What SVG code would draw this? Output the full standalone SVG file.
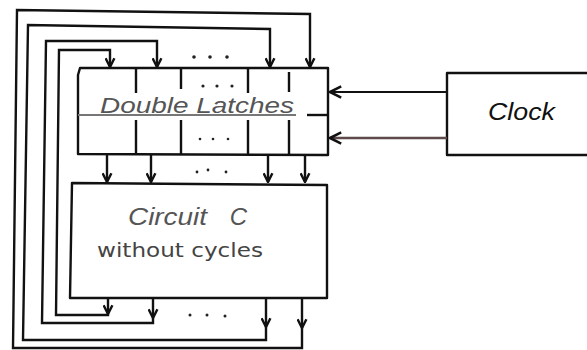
<svg xmlns="http://www.w3.org/2000/svg" width="587" height="350" viewBox="0 0 587 350">
<style>
.box{fill:none;stroke:#111;stroke-width:2.4;stroke-linejoin:round}
.ln{fill:none;stroke:#111;stroke-width:2.4;stroke-linejoin:round}
.arr{fill:none;stroke:#111;stroke-width:2.4;marker-end:url(#ah)}
.dot{fill:#222}
.lbl{font-family:"Liberation Sans",Arial,sans-serif;font-style:italic;fill:#555}
</style>
<defs>
<marker id="ah" viewBox="0 0 10 10" refX="9" refY="5" markerWidth="11" markerHeight="11" markerUnits="userSpaceOnUse" orient="auto">
<path d="M1,1 L9,5 L1,9" fill="none" stroke="#111" stroke-width="2.2"/>
</marker>
<marker id="ahc" viewBox="0 0 10 10" refX="9" refY="5" markerWidth="14" markerHeight="14" markerUnits="userSpaceOnUse" orient="auto">
<path d="M1,1 L9,5 L1,9" fill="none" stroke="#111" stroke-width="1.8"/>
</marker>
</defs>
<rect width="587" height="350" fill="#fff"/>

<g id="latches">
<path class="box" d="M78,75 L80,68 L328,68 L328,155 L78,154 Z"/>
<path class="ln" d="M136,68 V93 M181,68 V89 M248,68 V93 M289,72 V92"/>
<path class="ln" d="M136,120 V154 M181,120 V154 M248,120 V154 M289,120 V154"/>
<line x1="78" y1="115" x2="296" y2="115" stroke="#777" stroke-width="1.8"/>
<line x1="307" y1="115" x2="328" y2="115" stroke="#111" stroke-width="2.4"/>
<text class="lbl" x="100" y="113" font-size="22" textLength="194" lengthAdjust="spacingAndGlyphs">Double Latches</text>
<circle class="dot" cx="203" cy="86" r="1.6"/><circle class="dot" cx="217" cy="86" r="1.6"/><circle class="dot" cx="232" cy="86" r="1.6"/>
<circle class="dot" cx="200" cy="139" r="1.3"/><circle class="dot" cx="213" cy="139" r="1.3"/><circle class="dot" cx="228" cy="139" r="1.3"/>
</g>

<g id="circuit">
<path class="box" d="M72,183 L327,185 L327,298 L70,298 Z"/>
<text class="lbl" y="225" font-size="24"><tspan x="128" textLength="79" lengthAdjust="spacingAndGlyphs">Circuit</tspan><tspan x="223"> C</tspan></text>
<text x="97" y="257" font-family="'DejaVu Sans',sans-serif" font-size="19" fill="#444" textLength="166" lengthAdjust="spacingAndGlyphs">without cycles</text>
</g>

<g id="clock">
<path class="box" d="M587,73 L447,73 L447,155 L587,155"/>
<text x="488" y="120" font-family="'Liberation Sans',Arial,sans-serif" font-style="italic" font-size="23" fill="#111" textLength="67" lengthAdjust="spacingAndGlyphs">Clock</text>
</g>

<g id="connectors">
<line x1="447" y1="92" x2="330" y2="92" stroke="#111" stroke-width="2.2" marker-end="url(#ahc)"/>
<line x1="447" y1="138" x2="330" y2="138" stroke="#5e4a4a" stroke-width="2.6" marker-end="url(#ahc)"/>
<line class="arr" x1="107" y1="155" x2="107" y2="182"/>
<line class="arr" x1="151" y1="155" x2="151" y2="182"/>
<line class="arr" x1="268" y1="155" x2="268" y2="182"/>
<line class="arr" x1="305" y1="155" x2="305" y2="182"/>
<line class="arr" x1="108" y1="299" x2="108" y2="314"/>
<line class="arr" x1="153" y1="299" x2="153" y2="318"/>
<line class="arr" x1="266" y1="299" x2="266" y2="327"/>
<line class="arr" x1="302" y1="299" x2="302" y2="328"/>
<path class="arr" d="M108,314 L108,315 L56,315 L59,50 L110,50 L110,67"/>
<path class="arr" d="M153,318 L153,323 L42,323 L46,41 L157,41 L157,67"/>
<path class="arr" d="M266,327 L266,340 L23,340 L28,25 L270,29 L270,67"/>
<path class="arr" d="M302,328 L302,348 L13,348 L17,10 L310,14 L310,67"/>
<circle class="dot" cx="194" cy="57" r="1.8"/><circle class="dot" cx="210" cy="57" r="1.8"/><circle class="dot" cx="227" cy="57" r="1.8"/>
<circle class="dot" cx="197" cy="172" r="1.4"/><circle class="dot" cx="208" cy="170" r="1.4"/><circle class="dot" cx="226" cy="172" r="1.4"/>
<circle class="dot" cx="190" cy="315" r="1.5"/><circle class="dot" cx="207" cy="315" r="1.5"/><circle class="dot" cx="225" cy="316" r="1.5"/>
</g>
</svg>
